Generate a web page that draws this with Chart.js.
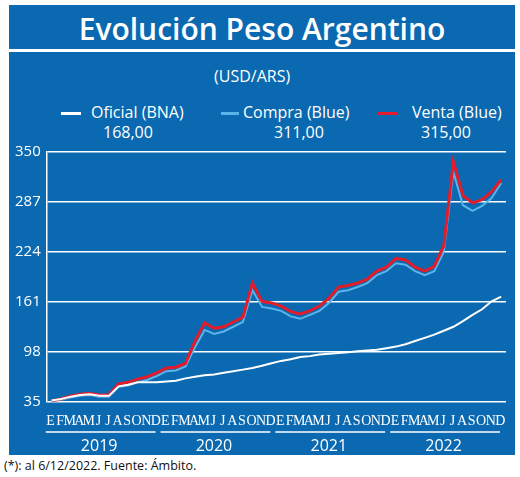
<!DOCTYPE html>
<html><head><meta charset="utf-8">
<script src="https://cdn.jsdelivr.net/npm/chart.js@4"></script>
<style>
body{margin:0;background:#fff;width:520px;height:477px;overflow:hidden;font-family:"Open Sans",sans-serif;}
#panel{position:absolute;left:9px;top:5px;width:506px;height:450px;background:#0a69b0;}
.t{position:absolute;color:#fff;white-space:nowrap;}
#title{left:0;width:506px;text-align:center;top:3px;font-size:30px;font-weight:600;}
#rule{position:absolute;left:0;top:44px;width:506px;height:3px;background:#fff;}
#cv{position:absolute;left:0;top:132px;}
#foot{position:absolute;left:4px;top:457px;font-size:12.5px;color:#111;}
</style></head><body>
<div id="panel">
<div class="t" id="title">Evolución Peso Argentino</div>
<div id="rule"></div>
<div class="t" style="left:205px;top:60px;font-size:16px">(USD/ARS)</div>
<div class="t" style="left:52px;top:96px;font-size:16px"><span style="display:inline-block;width:20px;height:3px;background:#fff;vertical-align:middle;margin-right:10px"></span>Oficial (BNA)</div>
<div class="t" style="left:94px;top:116px;font-size:16px">168,00</div>
<div class="t" style="left:212px;top:96px;font-size:16px"><span style="display:inline-block;width:18px;height:3px;background:#5ab4ea;vertical-align:middle;margin-right:4px"></span>Compra (Blue)</div>
<div class="t" style="left:265px;top:116px;font-size:16px">311,00</div>
<div class="t" style="left:369px;top:96px;font-size:16px"><span style="display:inline-block;width:20px;height:3px;background:#e21c2a;vertical-align:middle;margin-right:14px"></span>Venta (Blue)</div>
<div class="t" style="left:412px;top:116px;font-size:16px">315,00</div>
<canvas id="cv" width="506" height="318"></canvas>
</div>
<div id="foot">(*): al 6/12/2022. Fuente: Ámbito.</div>
<script>
const months=["E","F","M","A","M","J","J","A","S","O","N","D"];
const years=["2019","2020","2021","2022"];
const yTicks=[35,98,161,224,287,350];
const oficial=[37,39,42,44,45,43,43,55,57,60,60,60, 61,62,65,67,69,70,72,74,76,78,81,84, 87,89,92,93,95,96,97,98,99,100,101,103, 105,108,112,116,120,125,130,137,145,152,162,168];
const venta=[37,39,43,45,46,44,44,58,60,64,67,72, 78,79,84,112,135,128,130,136,142,185,162,160, 156,149,146,150,156,166,180,182,185,190,200,205, 216,214,205,200,206,232,338,295,286,290,300,315];
const compra=[36,38,41,43,44,42,42,54,56,60,63,68, 74,75,80,104,126,121,124,130,136,176,155,153, 150,143,140,145,150,160,174,176,180,185,195,200, 210,208,200,195,200,224,325,283,276,282,292,311];
const pts=a=>a.map((v,i)=>({x:i+0.5,y:v}));
const yearLines={id:'yl',afterDraw(c){const x=c.scales.x,ctx=c.ctx;ctx.save();ctx.strokeStyle='#fff';ctx.fillStyle='#fff';ctx.lineWidth=1.5;ctx.font='16px "Open Sans"';ctx.textAlign='center';
years.forEach((y,i)=>{const a=x.getPixelForValue(i*12)-4,b=x.getPixelForValue(i*12+12)-6;ctx.beginPath();ctx.moveTo(a+3,295);ctx.lineTo(b,295);ctx.stroke();ctx.fillText(y,(a+b)/2,314);});ctx.restore();}};
new Chart(document.getElementById('cv'),{type:'line',
data:{datasets:[
{label:'Oficial',data:pts(oficial),borderColor:'#fff',borderWidth:2},
{label:'Venta',data:pts(venta),borderColor:'#e21c2a',borderWidth:3},
{label:'Compra',data:pts(compra),borderColor:'#5ab4ea',borderWidth:2}]},
options:{responsive:false,animation:false,events:[],elements:{point:{radius:0},line:{tension:0}},
layout:{padding:{left:0,right:9,top:12,bottom:22}},
plugins:{legend:{display:false},tooltip:{enabled:false}},
scales:{
x:{type:'linear',min:0,max:48,afterBuildTicks(s){s.ticks=months.concat(months,months,months).map((m,i)=>({value:i+0.4}));},
ticks:{autoSkip:false,maxRotation:0,color:'#fff',padding:3,font:{family:'"Liberation Sans Narrow"',size:14},callback:(v,i)=>months[i%12]},
grid:{display:false},border:{display:false}},
y:{min:35,max:350,afterBuildTicks(s){s.ticks=yTicks.map(v=>({value:v}));},
ticks:{color:'#fff',padding:6,font:{family:'"Open Sans"',size:15}},
grid:{color:'#fff',lineWidth:1.5,drawTicks:false},border:{color:'#fff',width:1.5}}}},
plugins:[yearLines]});
</script></body></html>
